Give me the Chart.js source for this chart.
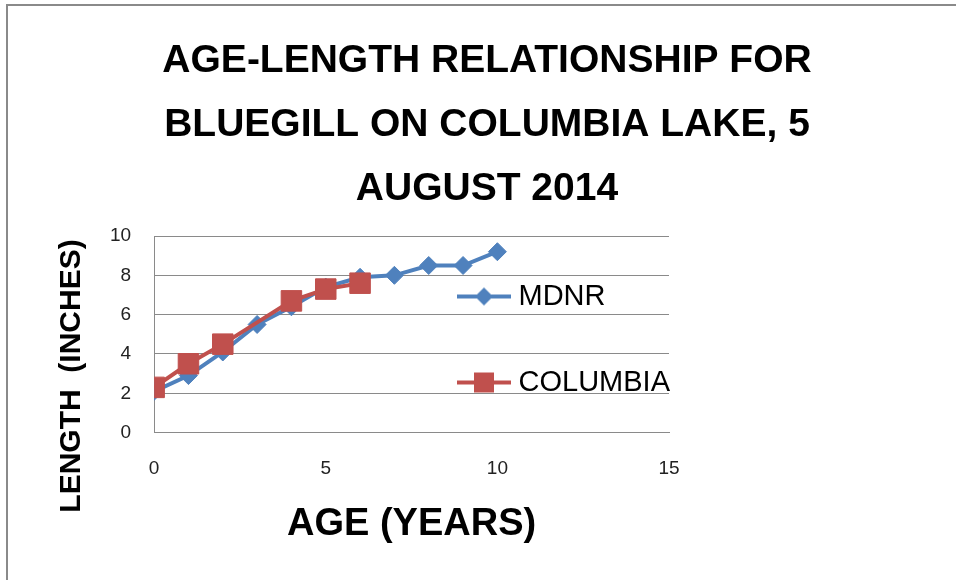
<!DOCTYPE html>
<html>
<head>
<meta charset="utf-8">
<script src="https://cdn.jsdelivr.net/npm/chart.js@4/dist/chart.umd.min.js"></script>
<style>
  html, body { margin: 0; padding: 0; background: #fff; overflow: hidden; }
  .frame { position: absolute; left: 6px; top: 4px; width: 2000px; height: 2000px;
           border-left: 2px solid #8a8a8a; border-top: 2px solid #8a8a8a; }
  #wrap { position: absolute; left: 0; top: 0; width: 956px; height: 580px; }
</style>
</head>
<body>
<div class="frame"></div>
<div id="wrap"><canvas id="ageLength"></canvas></div>
<script>
// values
var mdnrAge = [0, 1, 2, 3, 4, 5, 6, 7, 8, 9, 10];
var mdnrLength = [2.1, 2.9, 4.1, 5.5, 6.4, 7.4, 7.9, 8.0, 8.5, 8.5, 9.2];
var columbiaAge = [0, 1, 2, 4, 5, 6];
var columbiaLength = [2.3, 3.5, 4.5, 6.7, 7.3, 7.6];
var seriesNames = ['MDNR', 'COLUMBIA'];
var titleLines = ['AGE-LENGTH RELATIONSHIP FOR', 'BLUEGILL ON COLUMBIA LAKE, 5', 'AUGUST 2014'];

var blue = '#4F81BD';
var red = '#C0504D';
var font = '"Liberation Sans", Arial, sans-serif';

function toPoints(xs, ys) {
    return xs.map(function (x, i) { return { x: x, y: ys[i] }; });
}

// legend icon: line with the marker on it, like Excel does
function legendIcon(color, shape) {
    var c = document.createElement('canvas');
    c.width = 54;
    c.height = 22;
    var g = c.getContext('2d');
    g.strokeStyle = color;
    g.lineWidth = 4;
    g.beginPath();
    g.moveTo(0, 11);
    g.lineTo(54, 11);
    g.stroke();
    g.fillStyle = color;
    g.beginPath();
    if (shape === 'diamond') {
        g.moveTo(27, 2); g.lineTo(36, 11); g.lineTo(27, 20); g.lineTo(18, 11);
    } else {
        g.rect(17, 1, 20, 20);
    }
    g.closePath();
    g.fill();
    return c;
}
var icons = [legendIcon(blue, 'diamond'), legendIcon(red, 'square')];

// Excel draws the legend over the plot area; move chart.js legend there
var legendSpot = {
    id: 'legendSpot',
    afterLayout: function (chart) {
        var lg = chart.legend;
        lg.maxHeight = 1000;
        lg.fit();
        lg.left = 407;
        lg.right = 956;
        lg.top = 225;
        lg.bottom = 580;
    }
};

var ctx = document.getElementById('ageLength').getContext('2d');
var chart = new Chart(ctx, {
    type: 'scatter',
    data: {
        datasets: [{
            label: seriesNames[0],
            data: toPoints(mdnrAge, mdnrLength),
            showLine: true,
            borderColor: blue,
            backgroundColor: blue,
            borderWidth: 4,
            pointStyle: 'rectRot',
            pointRadius: 9,
            pointBorderWidth: 1,
            pointBorderColor: blue,
            pointBackgroundColor: blue,
            order: 1
        }, {
            label: seriesNames[1],
            data: toPoints(columbiaAge, columbiaLength),
            showLine: true,
            borderColor: red,
            backgroundColor: red,
            borderWidth: 4,
            pointStyle: 'rect',
            pointRadius: 14.5,
            pointBorderWidth: 1,
            pointBorderColor: red,
            pointBackgroundColor: red,
            order: 0
        }]
    },
    options: {
        responsive: true,
        maintainAspectRatio: false,
        animation: false,
        layout: { padding: { left: 18, right: 0, top: 0, bottom: 0 } },
        plugins: {
            title: {
                display: true,
                text: titleLines,
                color: '#000',
                font: { family: font, size: 39, weight: 'bold', lineHeight: 64 / 39 },
                padding: { top: 29, bottom: 15 }
            },
            legend: {
                position: 'chartArea',
                align: 'start',
                labels: {
                    usePointStyle: true,
                    pointStyleWidth: 40,
                    padding: 57,
                    color: '#000',
                    font: { family: font, size: 29 },
                    sort: function (a, b) { return a.datasetIndex - b.datasetIndex; },
                    generateLabels: function (chart) {
                        var items = Chart.defaults.plugins.legend.labels.generateLabels(chart);
                        items.forEach(function (it) { it.pointStyle = icons[it.datasetIndex]; });
                        return items;
                    }
                }
            },
            tooltip: { enabled: false }
        },
        scales: {
            x: {
                type: 'linear',
                min: 0,
                max: 15,
                grid: { display: false, drawTicks: false },
                border: { display: true, color: '#8a8a8a', width: 1 },
                ticks: { stepSize: 5, padding: 25, color: '#222', font: { family: font, size: 19 } },
                title: {
                    display: true,
                    text: 'AGE (YEARS)',
                    color: '#000',
                    font: { family: font, size: 38, weight: 'bold' },
                    padding: { top: -4, bottom: 33 }
                }
            },
            y: {
                min: 0,
                max: 10,
                grid: { color: '#8a8a8a', drawTicks: false },
                border: { display: true, color: '#8a8a8a', width: 1 },
                ticks: { stepSize: 2, padding: 23, color: '#222', font: { family: font, size: 19 } },
                title: {
                    display: true,
                    text: 'LENGTH  (INCHES)          ',
                    color: '#000',
                    font: { family: font, size: 30, weight: 'bold' },
                    padding: { top: 36, bottom: -3 }
                }
            },
            // empty right-hand box: keeps the plot narrow like the original
            yRight: {
                position: 'right',
                min: 0,
                max: 10,
                grid: { display: false, drawTicks: false },
                border: { display: false },
                ticks: { display: false },
                afterFit: function (scale) { scale.width = 287; }
            }
        }
    },
    plugins: [legendSpot]
});
</script>
</body>
</html>
